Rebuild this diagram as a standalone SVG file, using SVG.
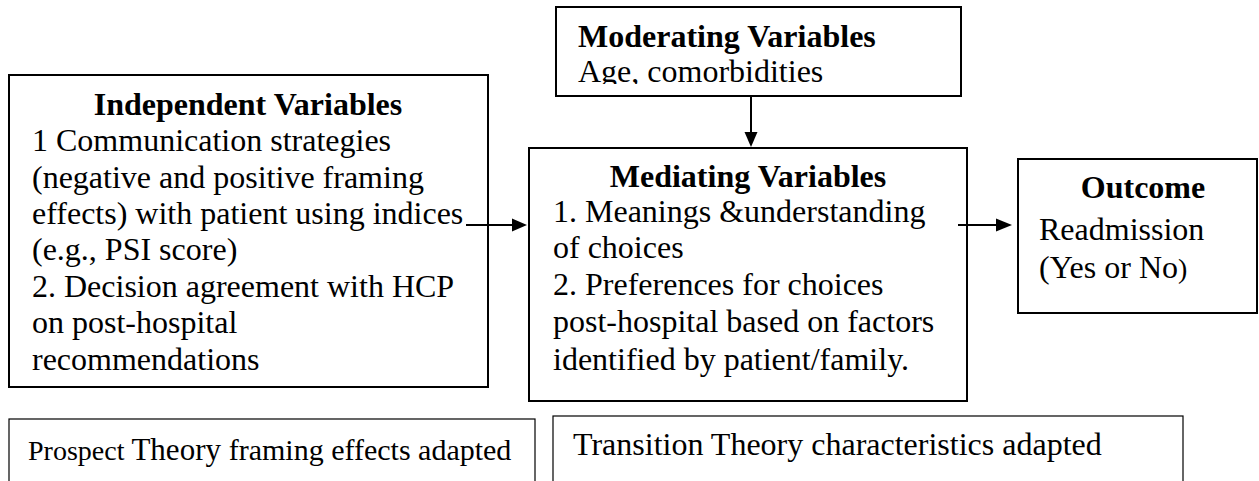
<svg xmlns="http://www.w3.org/2000/svg" width="1259" height="481" viewBox="0 0 1259 481">
  <style>
    .box { fill: #fff; stroke: #000; stroke-width: 2; }
    .thin { fill: #fff; stroke: #000; stroke-width: 1.2; }
    .t { font-family: "Liberation Serif", "Times New Roman", serif; font-size: 32px; fill: #000; }
    .b { font-weight: bold; }
    .c { text-anchor: middle; }
    .conn { stroke: #000; stroke-width: 2; fill: none; }
    .head { fill: #000; }
  </style>
  <defs>
    <clipPath id="modClip">
      <rect x="556" y="7" width="406" height="77"/>
    </clipPath>
  </defs>
  <rect x="0" y="0" width="1259" height="481" fill="#fff"/>

  <g id="independent">
    <rect class="box" x="9" y="75" width="479" height="312"/>
    <text class="t b c" x="248" y="115">Independent Variables</text>
    <text class="t" x="32" y="151">1 Communication strategies</text>
    <text class="t" x="32" y="188">(negative and positive framing</text>
    <text class="t" x="32" y="224">effects) with patient using indices</text>
    <text class="t" x="32" y="260">(e.g., PSI score)</text>
    <text class="t" x="32" y="297">2. Decision agreement with HCP</text>
    <text class="t" x="32" y="333">on post-hospital</text>
    <text class="t" x="32" y="370">recommendations</text>
  </g>

  <g id="moderating">
    <rect class="box" x="556" y="7" width="405" height="89"/>
    <g clip-path="url(#modClip)">
      <text class="t b" x="578" y="47">Moderating Variables</text>
      <text class="t" x="578" y="82">Age, comorbidities</text>
    </g>
  </g>

  <g id="mediating">
    <rect class="box" x="529" y="148" width="438" height="253"/>
    <text class="t b c" x="748" y="187">Mediating Variables</text>
    <text class="t" x="553" y="222">1. Meanings &amp;understanding</text>
    <text class="t" x="553" y="258">of choices</text>
    <text class="t" x="553" y="295">2. Preferences for choices</text>
    <text class="t" x="553" y="332">post-hospital based on factors</text>
    <text class="t" x="553" y="370">identified by patient/family.</text>
  </g>

  <g id="outcome">
    <rect class="box" x="1018" y="159" width="239" height="154"/>
    <text class="t b c" x="1143" y="198">Outcome</text>
    <text class="t" x="1039" y="240">Readmission</text>
    <text class="t" x="1039" y="278">(Yes or No<tspan font-size="28">)</tspan></text>
  </g>

  <g id="prospect">
    <rect class="thin" x="9" y="419" width="526" height="80"/>
    <text class="t" x="28" y="460"><tspan font-size="28">Prospect </tspan><tspan font-size="31">Theory </tspan><tspan font-size="30">framing effects adapted</tspan></text>
  </g>

  <g id="transition">
    <rect class="thin" x="553" y="416" width="630" height="80"/>
    <text class="t" x="573" y="455">Transition Theory characteristics adapted</text>
  </g>

  <g id="connectors">
    <line class="conn" x1="466" y1="225" x2="513" y2="225"/>
    <polygon class="head" points="512,218.5 527,225 512,231.5"/>
    <line class="conn" x1="751" y1="96" x2="751" y2="133"/>
    <polygon class="head" points="744.5,132 757.5,132 751,147"/>
    <line class="conn" x1="958" y1="225" x2="997" y2="225"/>
    <polygon class="head" points="996,218.5 1012,225 996,231.5"/>
  </g>
</svg>
